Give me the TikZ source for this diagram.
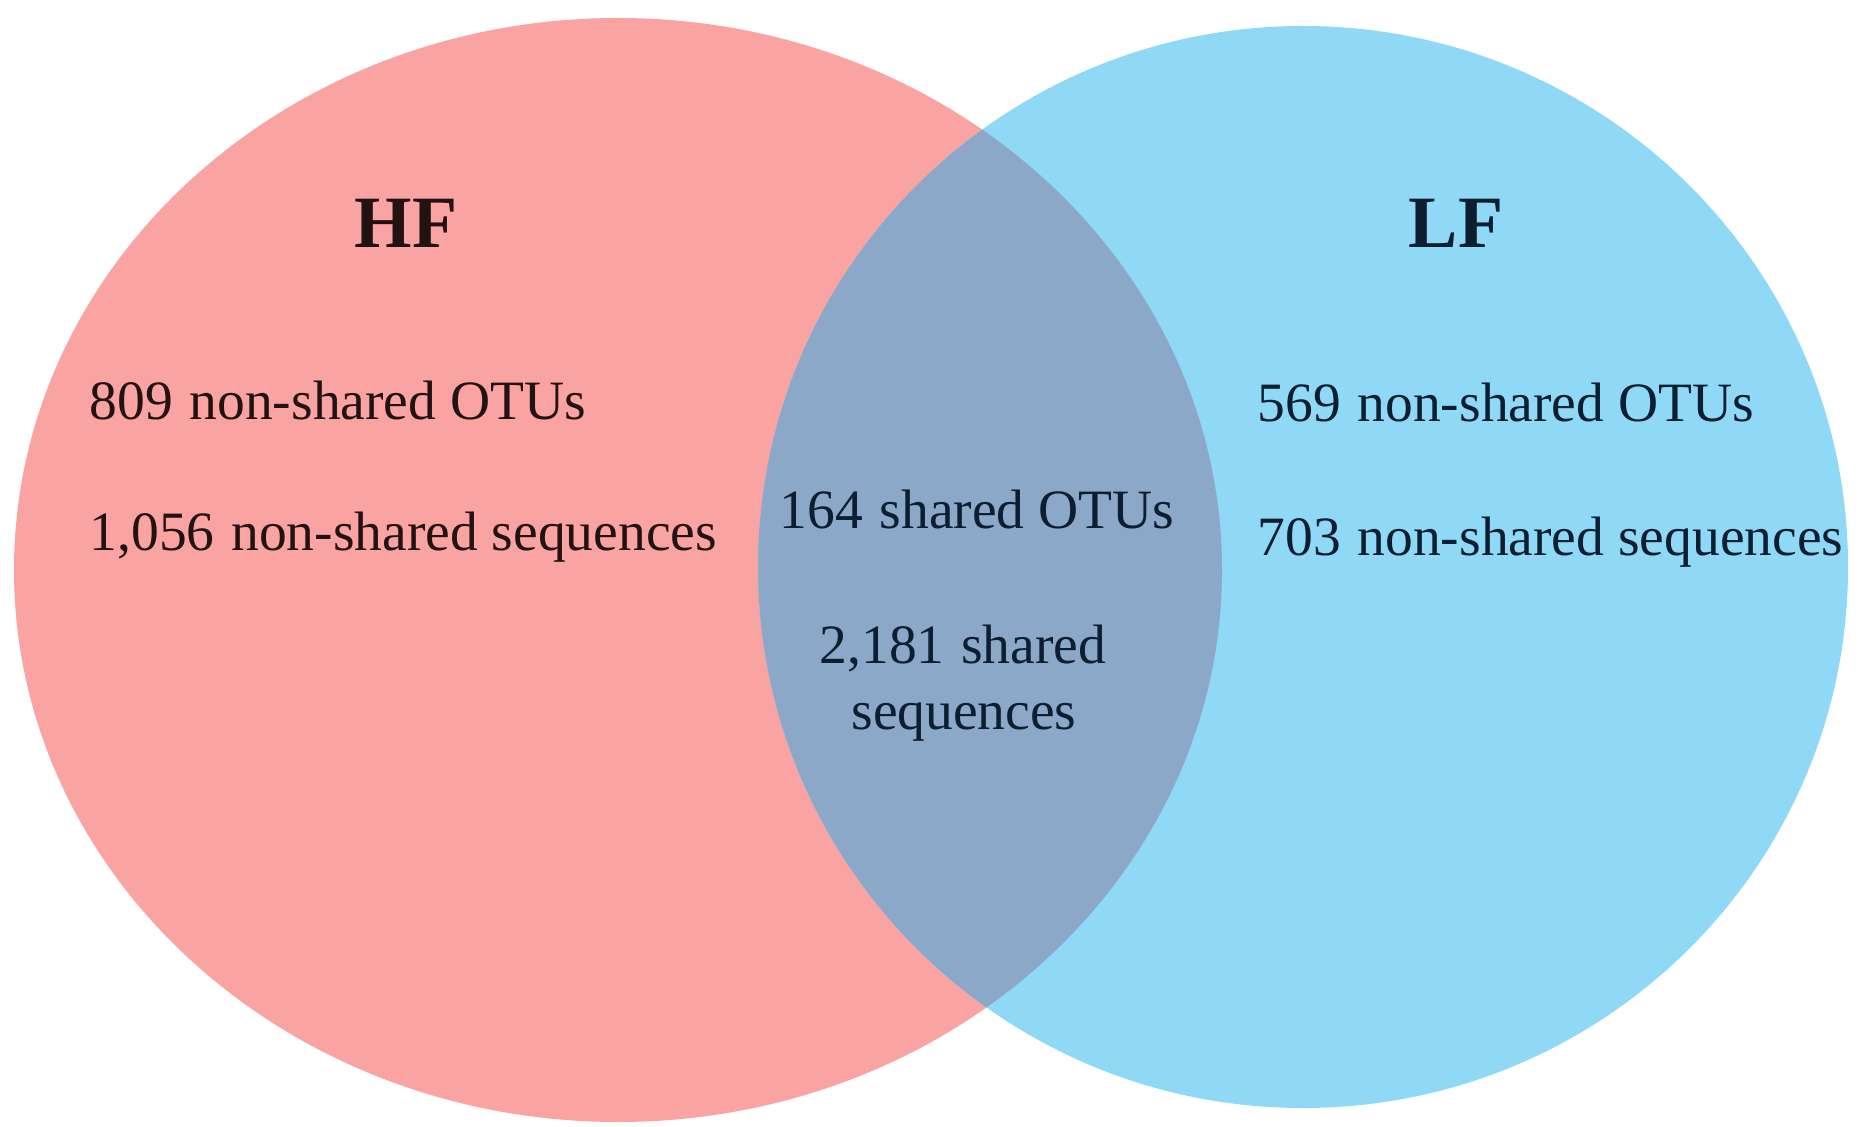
\documentclass[tikz,border=0pt]{standalone}
\usepackage{fontspec}
\setmainfont{Liberation Serif}
\definecolor{hfpink}{RGB}{249,163,162}
\definecolor{lfblue}{RGB}{143,217,246}
\definecolor{bothblue}{RGB}{139,168,200}
\definecolor{inkhf}{RGB}{35,18,18}
\definecolor{inklf}{RGB}{12,30,48}

\begin{document}
\begin{tikzpicture}[
  setname/.style={font=\fontsize{21}{25}\selectfont\bfseries, anchor=base, inner sep=0pt},
  count/.style={font=\fontsize{15.8}{17}\selectfont, anchor=base west, inner sep=0pt},
  midcount/.style={font=\fontsize{15.8}{17}\selectfont, anchor=base, inner sep=0pt, text=inklf}
 ]
 \useasboundingbox (0,0) rectangle (18.6,-11.27);
 % the two sets
 \fill[hfpink] (6.18,-5.70) ellipse (6.04 and 5.52);
 \fill[lfblue] (13.03,-5.67) ellipse (5.45 and 5.41);
 \begin{scope}
  \clip (6.18,-5.70) ellipse (6.04 and 5.52);
  \fill[bothblue] (13.03,-5.67) ellipse (5.45 and 5.41);
 \end{scope}
 % labels
 \node[setname, text=inkhf] (hf) at (4.06,-2.48) {HF};
 \node[setname, text=inklf] (lf) at (14.56,-2.48) {LF};
 \node[count, text=inkhf] (hfotu) at (0.89,-4.20) {809\hspace{.3em}non-shared OTUs};
 \node[count, text=inkhf] (hfseq) at (0.89,-5.51) {1,056\hspace{.3em}non-shared sequences};
 \node[count, text=inklf] (lfotu) at (12.57,-4.22) {569\hspace{.3em}non-shared OTUs};
 \node[count, text=inklf] (lfseq) at (12.57,-5.56) {703\hspace{.3em}non-shared sequences};
 \node[midcount] (botu) at (9.77,-5.29) {164\hspace{.3em}shared OTUs};
 \node[midcount] (bseq) at (9.63,-6.64) {2,181\hspace{.3em}shared};
 \node[midcount] (bseq2) at (9.64,-7.30) {sequences};
\end{tikzpicture}
\end{document}
